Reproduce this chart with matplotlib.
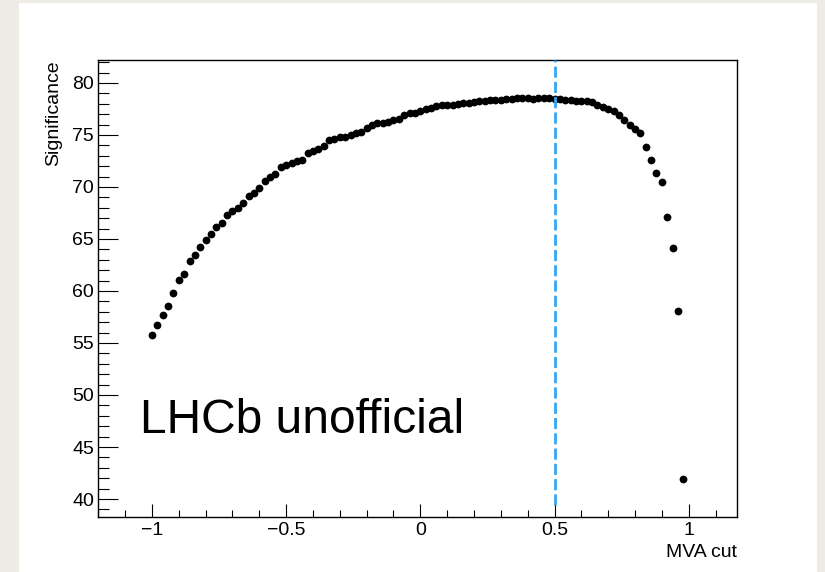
import matplotlib
matplotlib.use("Agg")
import matplotlib.pyplot as plt
from matplotlib.patches import Rectangle
from matplotlib.ticker import MultipleLocator

plt.rcParams['font.family'] = ['Liberation Sans', 'DejaVu Sans']

# MVA cut values (scan grid)
mva_cut = [-1.00, -0.98, -0.96, -0.94, -0.92, -0.90, -0.88, -0.86, -0.84, -0.82,
           -0.80, -0.78, -0.76, -0.74, -0.72, -0.70, -0.68, -0.66, -0.64, -0.62,
           -0.60, -0.58, -0.56, -0.54, -0.52, -0.50, -0.48, -0.46, -0.44, -0.42,
           -0.40, -0.38, -0.36, -0.34, -0.32, -0.30, -0.28, -0.26, -0.24, -0.22,
           -0.20, -0.18, -0.16, -0.14, -0.12, -0.10, -0.08, -0.06, -0.04, -0.02,
           0.00, 0.02, 0.04, 0.06, 0.08, 0.10, 0.12, 0.14, 0.16, 0.18,
           0.20, 0.22, 0.24, 0.26, 0.28, 0.30, 0.32, 0.34, 0.36, 0.38,
           0.40, 0.42, 0.44, 0.46, 0.48, 0.50, 0.52, 0.54, 0.56, 0.58,
           0.60, 0.62, 0.64, 0.66, 0.68, 0.70, 0.72, 0.74, 0.76, 0.78,
           0.80, 0.82, 0.84, 0.86, 0.88, 0.90, 0.92, 0.94, 0.96, 0.98]

significance = [55.77, 56.70, 57.66, 58.60, 59.83, 61.06, 61.60, 62.85, 63.43, 64.26,
                64.93, 65.45, 66.18, 66.50, 67.30, 67.72, 68.00, 68.43, 69.13, 69.45,
                69.87, 70.60, 71.00, 71.25, 71.95, 72.15, 72.30, 72.50, 72.60, 73.24,
                73.43, 73.62, 73.94, 74.52, 74.65, 74.78, 74.84, 74.97, 75.22, 75.29,
                75.64, 75.93, 76.12, 76.18, 76.22, 76.44, 76.57, 76.92, 77.08, 77.14,
                77.28, 77.47, 77.60, 77.79, 77.86, 77.88, 77.91, 77.98, 78.05, 78.10,
                78.17, 78.27, 78.30, 78.37, 78.37, 78.33, 78.43, 78.50, 78.56, 78.59,
                78.56, 78.46, 78.53, 78.56, 78.56, 78.50, 78.43, 78.37, 78.33, 78.27,
                78.24, 78.27, 78.17, 77.91, 77.66, 77.47, 77.28, 76.95, 76.44, 75.93,
                75.60, 75.16, 73.80, 72.56, 71.30, 70.50, 67.10, 64.10, 58.08, 41.90]

best_cut = 0.5
x_label = "MVA cut"
y_label = "Significance"
watermark = "LHCb unofficial"

W, H = 825, 572
fig = plt.figure(figsize=(W / 100, H / 100), dpi=100)
fig.patch.set_facecolor('#eeebe4')
fig.patches.append(Rectangle((19 / W, 0), (817 - 19) / W, (572 - 3) / H,
                             transform=fig.transFigure, facecolor='white',
                             edgecolor='none', zorder=-10))

left, right, top, bottom = 98.3, 737, 60.3, 517
ax = fig.add_axes([left / W, 1 - bottom / H, (right - left) / W, (bottom - top) / H])
ax.set_zorder(1)
ax.set_facecolor('white')

ax.plot(mva_cut, significance, 'o', color='black', markersize=5.6,
        markeredgewidth=0, zorder=3)

ymin, ymax = 38.27, 82.18
ax.set_xlim(-1.2, 1.18)
ax.set_ylim(ymin, ymax)

ax.plot([best_cut, best_cut], [39.42, ymax], color='#35a7f2', lw=2,
        dashes=(4, 1.5), zorder=4, clip_on=False)

ax.xaxis.set_major_locator(MultipleLocator(0.5))
ax.xaxis.set_minor_locator(MultipleLocator(0.1))
ax.yaxis.set_major_locator(MultipleLocator(5))
ax.yaxis.set_minor_locator(MultipleLocator(1))
ax.xaxis.set_major_formatter(plt.FuncFormatter(lambda v, p: ('%g' % v).replace('-', '\u2212')))

ax.tick_params(axis='both', which='both', direction='in', top=False, right=False,
               width=0.8, labelsize=14, pad=3)
ax.tick_params(axis='y', which='major', length=14.4)
ax.tick_params(axis='y', which='minor', length=7.7)
ax.tick_params(axis='x', which='major', length=9.4, pad=3.5)
ax.tick_params(axis='x', which='minor', length=5)
for s in ax.spines.values():
    s.set_linewidth(1.0)

fig.text(737 / W, 1 - 557 / H, x_label, ha='right', va='baseline', fontsize=14)
fig.text(58.6 / W, 1 - 60.3 / H, y_label, rotation=90, rotation_mode='anchor',
         ha='right', va='baseline', fontsize=14)
fig.text(140 / W, 1 - 433.3 / H, watermark, ha='left', va='baseline', fontsize=34.5,
         zorder=5)

fig.savefig('out.png', dpi=100, facecolor=fig.get_facecolor())
